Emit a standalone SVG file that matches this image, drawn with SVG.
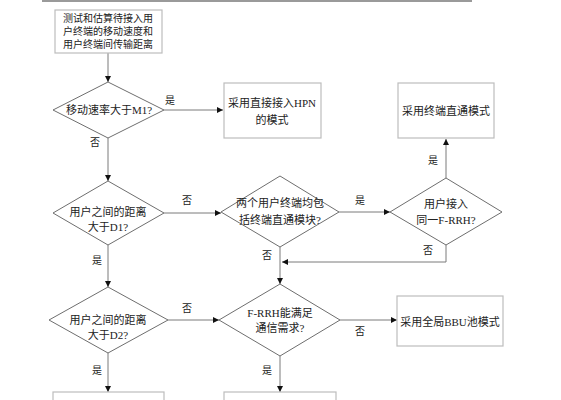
<svg xmlns="http://www.w3.org/2000/svg" width="561" height="400" viewBox="0 0 561 400">
<defs>
<style>
.box{fill:#fff;stroke:#bdbdbd;stroke-width:1.2}
.dia{fill:#fff;stroke:#6e6e6e;stroke-width:1}
.ln{fill:none;stroke:#7a7a7a;stroke-width:1}
text{font-family:"Liberation Serif","Noto Sans CJK SC",serif;fill:#222;text-anchor:middle}
.t{font-size:11px}
.t1{font-size:10px}
.lb{font-size:10px}
</style>
<marker id="ah" viewBox="0 0 8 8" refX="8" refY="4" markerWidth="6" markerHeight="6" orient="auto" markerUnits="userSpaceOnUse">
<path d="M0,0 L8,4 L0,8 Z" fill="#111"/>
</marker>
</defs>
<rect width="561" height="400" fill="#fff"/>
<line x1="42" y1="1" x2="472" y2="1" stroke="#9a9a9a" stroke-width="2"/>

<g id="connectors">
<line class="ln" x1="108" y1="53" x2="108" y2="82" marker-end="url(#ah)"/>
<line class="ln" x1="164" y1="110" x2="223" y2="110" marker-end="url(#ah)"/>
<line class="ln" x1="108" y1="138" x2="108" y2="181" marker-end="url(#ah)"/>
<line class="ln" x1="164" y1="213" x2="221" y2="213" marker-end="url(#ah)"/>
<line class="ln" x1="339" y1="212" x2="390" y2="212" marker-end="url(#ah)"/>
<line class="ln" x1="446" y1="178" x2="446" y2="139" marker-end="url(#ah)"/>
<polyline class="ln" points="446,245 446,262 282,262" marker-end="url(#ah)"/>
<line class="ln" x1="280" y1="247" x2="280" y2="284" marker-end="url(#ah)"/>
<line class="ln" x1="108" y1="245" x2="108" y2="287" marker-end="url(#ah)"/>
<line class="ln" x1="168" y1="320" x2="219" y2="320" marker-end="url(#ah)"/>
<line class="ln" x1="340" y1="320" x2="397" y2="320" marker-end="url(#ah)"/>
<line class="ln" x1="108" y1="353" x2="108" y2="392" marker-end="url(#ah)"/>
<line class="ln" x1="280" y1="356" x2="280" y2="392" marker-end="url(#ah)"/>
<text class="lb" x="170" y="104">是</text>
<text class="lb" x="95" y="146">否</text>
<text class="lb" x="187" y="204">否</text>
<text class="lb" x="97" y="264">是</text>
<text class="lb" x="360" y="204">是</text>
<text class="lb" x="267" y="259">否</text>
<text class="lb" x="433" y="164">是</text>
<text class="lb" x="428" y="254">否</text>
<text class="lb" x="187" y="312">否</text>
<text class="lb" x="97" y="374">是</text>
<text class="lb" x="360" y="335">否</text>
<text class="lb" x="267" y="374">是</text>
</g>

<g id="n_measure">
<rect class="box" x="55" y="10" width="107" height="43"/>
<text class="t1" x="108" y="22">测试和估算待接入用</text>
<text class="t1" x="108" y="35">户终端的移动速度和</text>
<text class="t1" x="108" y="48">用户终端间传输距离</text>
</g>
<g id="n_m1">
<polygon class="dia" points="108,82 164,110 108,138 53,110"/>
<text class="t" x="109" y="114">移动速率大于M1?</text>
</g>
<g id="n_hpn">
<rect class="box" x="224" y="83" width="97" height="55"/>
<text class="t" x="272" y="107">采用直接接入HPN</text>
<text class="t" x="272" y="124">的模式</text>
</g>
<g id="n_direct">
<rect class="box" x="398" y="83" width="96" height="55"/>
<text class="t" x="446" y="115">采用终端直通模式</text>
</g>
<g id="n_d1">
<polygon class="dia" points="108,181 164,213 108,245 53,213"/>
<text class="t" x="108" y="216">用户之间的距离</text>
<text class="t" x="108" y="231">大于D1?</text>
</g>
<g id="n_module">
<polygon class="dia" points="280,176 339,212 280,247 221,212"/>
<text class="t" x="280" y="207">两个用户终端均包</text>
<text class="t" x="280" y="224">括终端直通模块?</text>
</g>
<g id="n_frrh_same">
<polygon class="dia" points="446,178 502,212 446,245 390,212"/>
<text class="t" x="446" y="208">用户接入</text>
<text class="t" x="446" y="224">同一F-RRH?</text>
</g>
<g id="n_d2">
<polygon class="dia" points="108,287 168,320 108,353 49,320"/>
<text class="t" x="108" y="324">用户之间的距离</text>
<text class="t" x="108" y="339">大于D2?</text>
</g>
<g id="n_frrh_req">
<polygon class="dia" points="280,284 340,320 280,356 219,320"/>
<text class="t" x="280" y="317">F-RRH能满足</text>
<text class="t" x="280" y="332">通信需求?</text>
</g>
<g id="n_bbu">
<rect class="box" x="397" y="296" width="106" height="50"/>
<text class="t" x="450" y="326">采用全局BBU池模式</text>
</g>
<g id="n_bottom_left">
<rect class="box" x="53" y="392" width="111" height="20"/>
</g>
<g id="n_bottom_mid">
<rect class="box" x="224" y="392" width="112" height="20"/>
</g>
</svg>
